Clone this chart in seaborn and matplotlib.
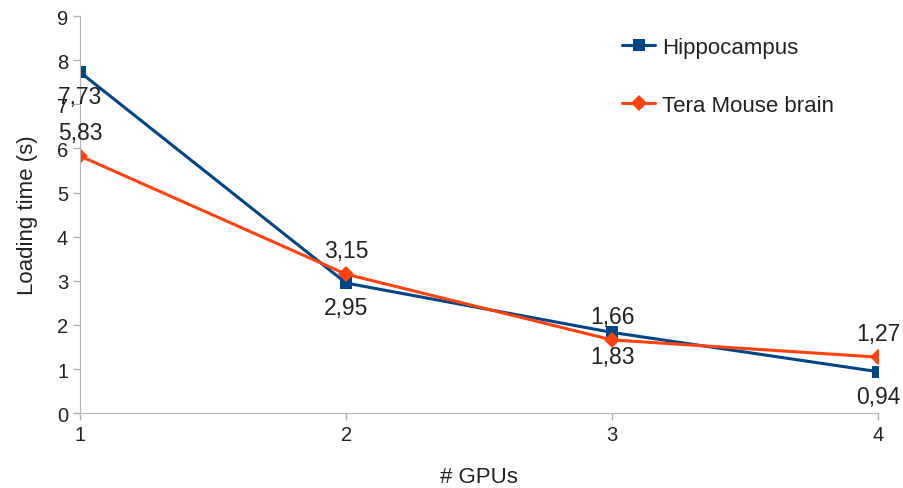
import pandas as pd
import matplotlib
matplotlib.use("Agg")
import matplotlib.pyplot as plt
import seaborn as sns

# data
gpus = [1, 2, 3, 4]
hippocampus = [7.73, 2.95, 1.83, 0.94]
tera_mouse = [5.83, 3.15, 1.66, 1.27]
series_names = ["Hippocampus", "Tera Mouse brain"]

df = pd.DataFrame({
    "gpus": gpus * 2,
    "time": hippocampus + tera_mouse,
    "series": [series_names[0]] * 4 + [series_names[1]] * 4,
})

sns.set_style("white")
plt.rcParams['font.family'] = ['Liberation Sans', 'DejaVu Sans']

colors = {"Hippocampus": "#004586", "Tera Mouse brain": "#ff420e"}

fig = plt.figure(figsize=(9.04, 4.89), dpi=100)
ax = fig.add_axes([0.0885, 0.153, 0.883, 0.812])

sns.lineplot(data=df, x="gpus", y="time", hue="series", style="series",
             palette=colors, markers={"Hippocampus": "s", "Tera Mouse brain": "D"},
             dashes=False, linewidth=2.2, markersize=8, markeredgewidth=0, ax=ax)

# value labels: blue below, orange above
for x, v in zip(gpus, hippocampus):
    ax.annotate(f"{v:.2f}".replace(".", ","), (x, v), xytext=(0, -17.5),
                textcoords="offset points", ha="center", va="center",
                fontsize=16.5, color="#222222")
for x, v in zip(gpus, tera_mouse):
    ax.annotate(f"{v:.2f}".replace(".", ","), (x, v), xytext=(0, 17),
                textcoords="offset points", ha="center", va="center",
                fontsize=16.5, color="#222222")

ax.set_xlim(1, 4)
ax.set_ylim(0, 9)
ax.set_xticks(gpus)
ax.set_yticks(range(0, 10))
ax.set_xlabel("# GPUs", fontsize=16, labelpad=16, color="#222222")
ax.set_ylabel("Loading time (s)", fontsize=16, labelpad=14, color="#222222")
ax.tick_params(axis="both", labelsize=14.5, colors="#b3b3b3", labelcolor="#222222",
               length=5, width=1, direction="out", left=True, bottom=True, pad=3.5)

for side in ["top", "right"]:
    ax.spines[side].set_visible(False)
for side in ["left", "bottom"]:
    ax.spines[side].set_color("#b3b3b3")

leg = ax.legend(loc="upper left", bbox_to_anchor=(622 / 904, 1 - 38 / 489),
                bbox_transform=fig.transFigure, frameon=False, borderpad=0,
                borderaxespad=0, fontsize=16, labelspacing=1.65,
                handlelength=1.5, handletextpad=0.3)
for h in leg.legend_handles:
    h.set_linewidth(2.2)
for t in leg.get_texts():
    t.set_color("#222222")

fig.savefig("out.png", dpi=100)
